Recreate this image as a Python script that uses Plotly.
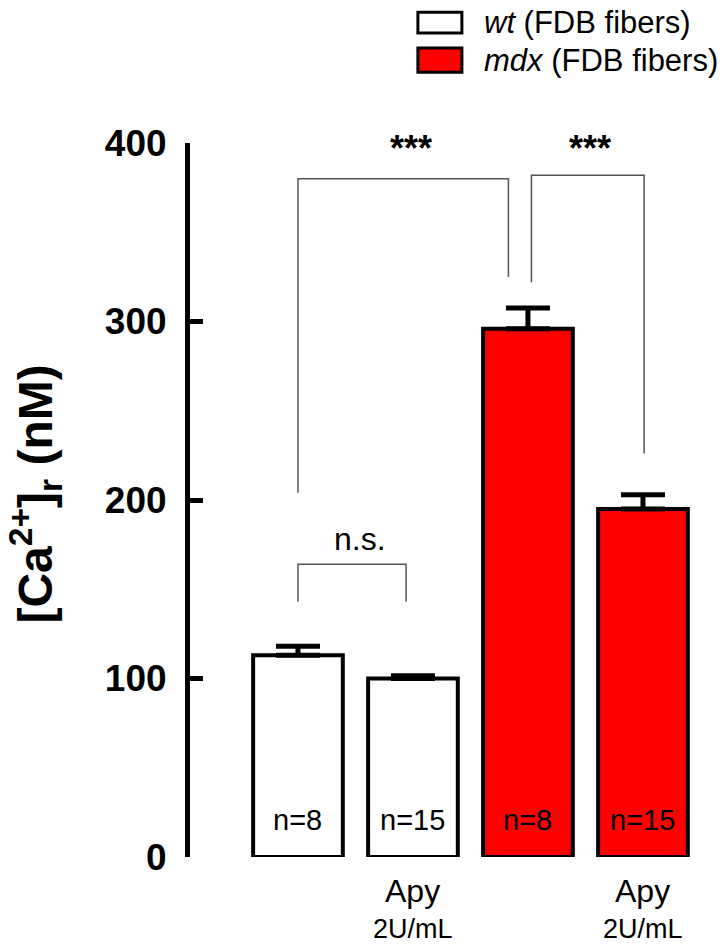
import plotly.graph_objects as go

# values
groups = ["wt", "wt + Apy", "mdx", "mdx + Apy"]
x_pos = [0, 1, 2, 3]
ca_mean = [113, 100, 296, 195]
ca_sem = [5, 1.5, 11.5, 8]
n_cells = ["n=8", "n=15", "n=8", "n=15"]
fill_colors = ["white", "white", "#ff0000", "#ff0000"]
legend_names = ["<i>wt</i> (FDB fibers)", "<i>mdx</i> (FDB fibers)"]
legend_fills = ["white", "#ff0000"]

# significance brackets: x left, x right, y left foot, y top, y right foot, label
brackets = [
    dict(x0=0.0, x1=1.83, yl=204, yt=380, yr=325, label="***", lx=0.98, ly=397),
    dict(x0=2.03, x1=3.01, yl=322, yt=382, yr=226, label="***", lx=2.54, ly=397),
    dict(x0=0.0, x1=0.94, yl=143, yt=164, yr=143, label="n.s.", lx=0.54, ly=178),
]

FONT = "Liberation Sans, Arial, sans-serif"

fig = go.Figure()

fig.add_trace(go.Bar(
    x=x_pos,
    y=ca_mean,
    width=0.78,
    marker=dict(color=fill_colors, line=dict(color="black", width=4)),
    error_y=dict(type="data", array=ca_sem, arrayminus=[0] * 4, symmetric=False,
                 color="black", thickness=5, width=22),
    showlegend=False,
))

shapes = []
annotations = []

for b in brackets:
    shapes.append(dict(
        type="path", xref="x", yref="y",
        path=f"M {b['x0']},{b['yl']} L {b['x0']},{b['yt']} L {b['x1']},{b['yt']} L {b['x1']},{b['yr']}",
        line=dict(color="#555555", width=1.5),
    ))
    stars = b["label"] == "***"
    annotations.append(dict(
        x=b["lx"], y=b["ly"], xref="x", yref="y", text=b["label"], showarrow=False,
        font=dict(family=FONT, size=36 if stars else 32, color="black",
                  weight="bold" if stars else "normal"),
        yanchor="middle",
    ))

# n labels inside bars
for xp, lab in zip(x_pos, n_cells):
    annotations.append(dict(
        x=xp, y=21, xref="x", yref="y", text=lab, showarrow=False,
        font=dict(family=FONT, size=29, color="black"), yanchor="middle",
    ))

# treatment labels below the bars
for xp in [1, 3]:
    annotations.append(dict(
        x=xp, y=-0.047, xref="x", yref="paper", text="Apy", showarrow=False,
        font=dict(family=FONT, size=32, color="black"), yanchor="middle",
    ))
    annotations.append(dict(
        x=xp, y=-0.101, xref="x", yref="paper", text="2U/mL", showarrow=False,
        font=dict(family=FONT, size=27, color="black"), yanchor="middle",
    ))

# y axis title
annotations.append(dict(
    x=-0.292, y=0.508, xref="paper", yref="paper",
    text="[Ca<sup>2+</sup>]<sub>r</sub> (nM)", textangle=-90, showarrow=False,
    xanchor="center", yanchor="middle",
    font=dict(family=FONT, size=48, color="black", weight="bold"),
))

# legend drawn by hand
legend_y = [(1.154, 1.183, 1.169), (1.099, 1.133, 1.116)]
for name, fc, (y0, y1, yt) in zip(legend_names, legend_fills, legend_y):
    shapes.append(dict(
        type="rect", xref="paper", yref="paper", x0=0.430, x1=0.513, y0=y0, y1=y1,
        fillcolor=fc, line=dict(color="black", width=3),
    ))
    annotations.append(dict(
        x=0.551, y=yt, xref="paper", yref="paper", text=name, showarrow=False,
        xanchor="left", yanchor="middle",
        font=dict(family=FONT, size=31, color="black"),
    ))

fig.update_layout(
    width=727,
    height=950,
    margin=dict(l=190, r=7, t=143, b=93),
    paper_bgcolor="white",
    plot_bgcolor="white",
    font=dict(family=FONT, color="black"),
    shapes=shapes,
    annotations=annotations,
    hovermode=False,
    xaxis=dict(
        range=[-0.939, 3.67],
        showline=False, showgrid=False, zeroline=False,
        showticklabels=False, ticks="",
        fixedrange=True, automargin=False,
    ),
    yaxis=dict(
        range=[0, 400],
        tickvals=[0, 100, 200, 300, 400],
        ticks="inside", ticklen=13, tickwidth=5, tickcolor="black",
        showline=True, linewidth=5, linecolor="black",
        showgrid=False, zeroline=False, automargin=False,
        fixedrange=True,
        tickfont=dict(family=FONT, size=37, color="black", weight="bold"),
        ticklabelstandoff=11,
    ),
    bargap=0.2,
)

# drop the browser's default page margin so the figure sits at the top-left corner
fig.write_html("out.html", config={"displayModeBar": False},
               post_script="document.body.style.margin='0';")
